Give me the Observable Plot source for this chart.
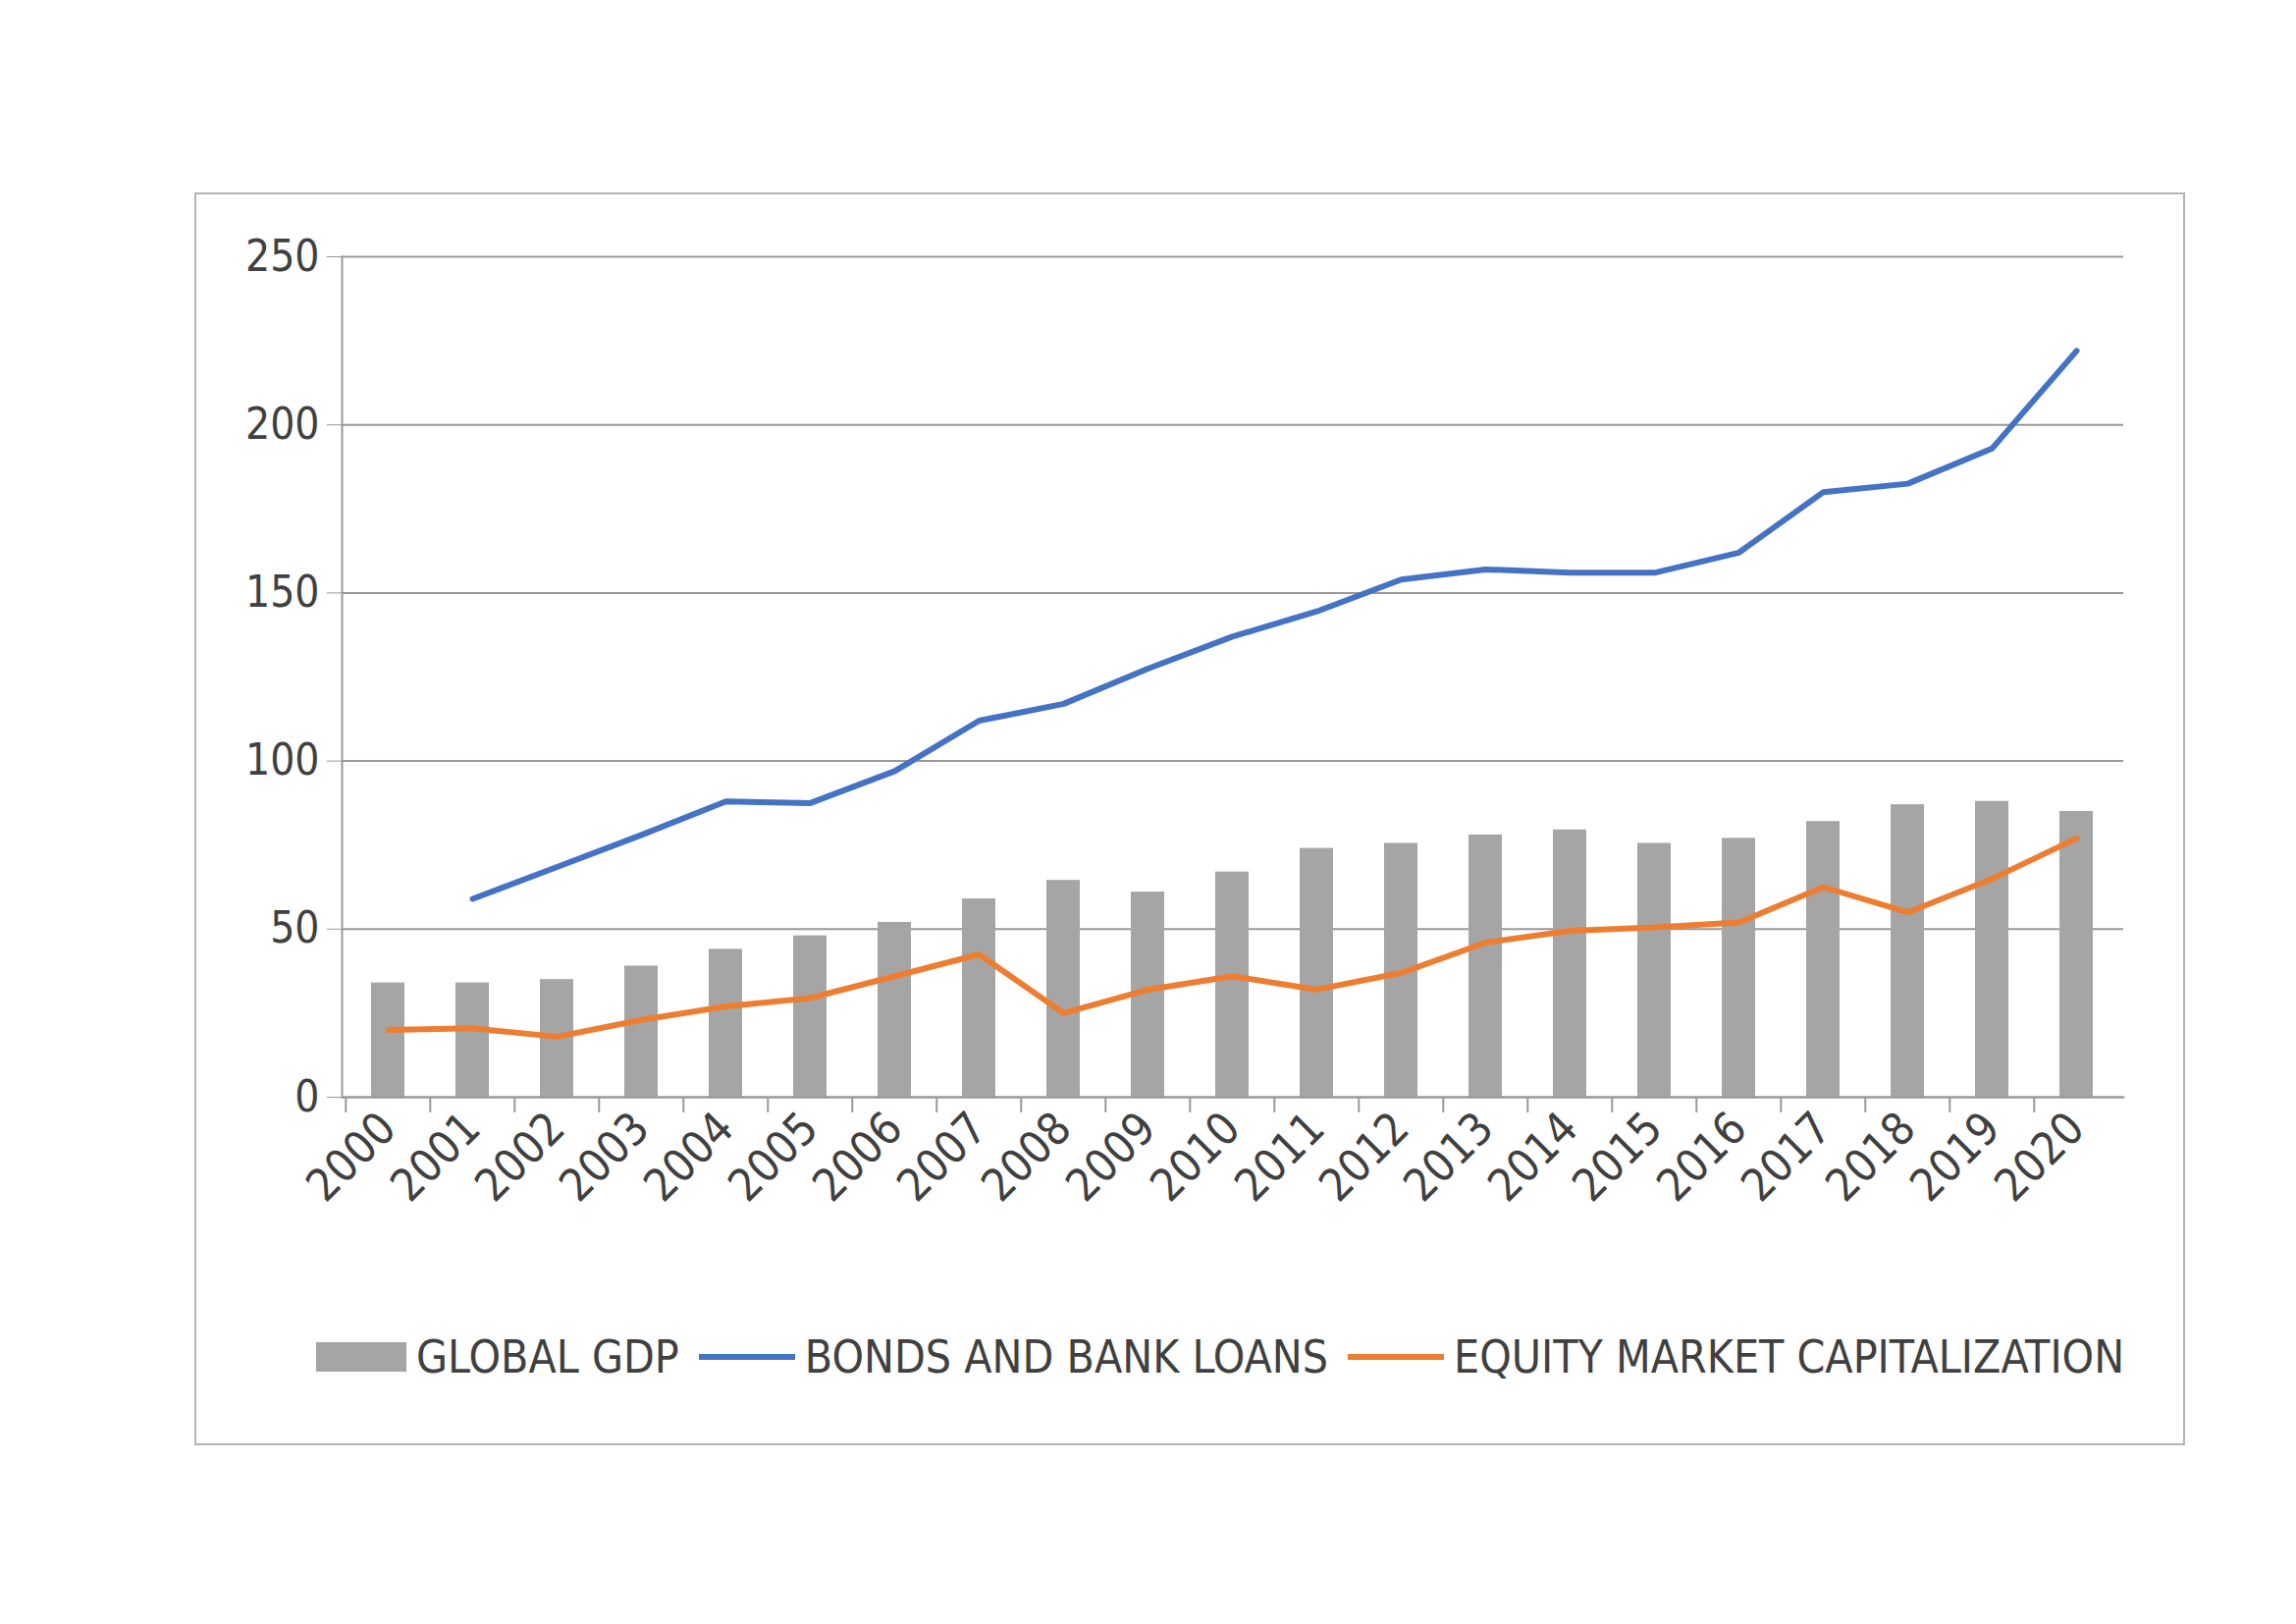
<!DOCTYPE html>
<html><head><meta charset="utf-8">
<script src="https://cdn.jsdelivr.net/npm/d3@7"></script>
<script src="https://cdn.jsdelivr.net/npm/@observablehq/plot@0.6"></script>
<style>
body{margin:0;background:#fff;width:2339px;height:1654px;position:relative;font-family:"DejaVu Sans Condensed","Liberation Sans Narrow",sans-serif;}
#frame{position:absolute;left:198px;top:196px;width:2024px;height:1272px;border:2px solid #b5b5b5;}
#chart{position:absolute;left:0;top:0;}
#legend{position:absolute;top:1355px;left:322px;display:flex;align-items:center;font-size:46px;color:#404040;font-stretch:condensed;}
.sw{display:inline-block;margin-right:10px}
</style></head><body>
<div id="frame"></div>
<div id="chart"></div>
<div id="legend">
<span class="sw" style="width:92px;height:30px;background:#a5a5a5"></span><span>GLOBAL GDP</span>
<span class="sw" style="width:98px;height:6px;background:#4472c4;margin-left:20px"></span><span>BONDS AND BANK LOANS</span>
<span class="sw" style="width:98px;height:6px;background:#ed7d31;margin-left:20px"></span><span>EQUITY MARKET CAPITALIZATION</span>
</div>
<script>
const years = d3.range(2000, 2021).map(String);
const gdp = [34,34,35,39,44,48,52,59,64.5,61,67,74,75.5,78,79.5,75.5,77,82,87,88,85];
const bonds = [null,59,68.5,78,88,87.5,97,112,117,127.5,137,144.5,154,157,156,156,162,180,182.5,193,222];
const equity = [20,20.5,18,23,27,29.5,36,42.5,25,32,36,32,37,46,49.5,50.5,52,62.5,55,65,77];
const yTicks = [0,50,100,150,200,250];

const rows = years.map((y,i)=>({year:y,gdp:gdp[i],bonds:bonds[i],equity:equity[i]}));
const W = 2339, ML = 348, MR = 176;
const bw = (W-ML-MR)/years.length;
const chart = Plot.plot({
  width:W, height:1300,
  marginLeft:ML, marginRight:MR, marginTop:261, marginBottom:183,
  style:{fontFamily:'"DejaVu Sans Condensed",sans-serif', fontSize:"44px", color:"#404040"},
  x:{type:"band", domain:years, paddingInner:0.6, paddingOuter:0.3, label:null},
  y:{domain:[0,250], ticks:yTicks, label:null},
  marks:[
    Plot.gridY(yTicks,{stroke:"#999",strokeOpacity:1,strokeWidth:2}),
    Plot.barY(rows,{x:"year",y:"gdp",fill:"#a5a5a5"}),
    Plot.line(rows.filter(d=>d.bonds!=null),{x:"year",y:"bonds",stroke:"#4472c4",strokeWidth:6}),
    Plot.line(rows,{x:"year",y:"equity",stroke:"#ed7d31",strokeWidth:6}),
    Plot.frame({anchor:"left",stroke:"#999",strokeWidth:2}),
    Plot.frame({anchor:"bottom",stroke:"#999",strokeWidth:2}),
    Plot.axisX(years.concat([]),{tickSize:16,tickFormat:()=>"",dx:-bw/2,stroke:"#999",strokeWidth:2,label:null}),
    Plot.axisY({ticks:yTicks,tickSize:15,tickPadding:8,fontSize:44,label:null,stroke:"#999"}),
    Plot.axisX({tickRotate:-45,tickSize:0,tickPadding:24,fontSize:46,label:null})
  ]
});
document.getElementById("chart").append(chart);
</script>
</body></html>
